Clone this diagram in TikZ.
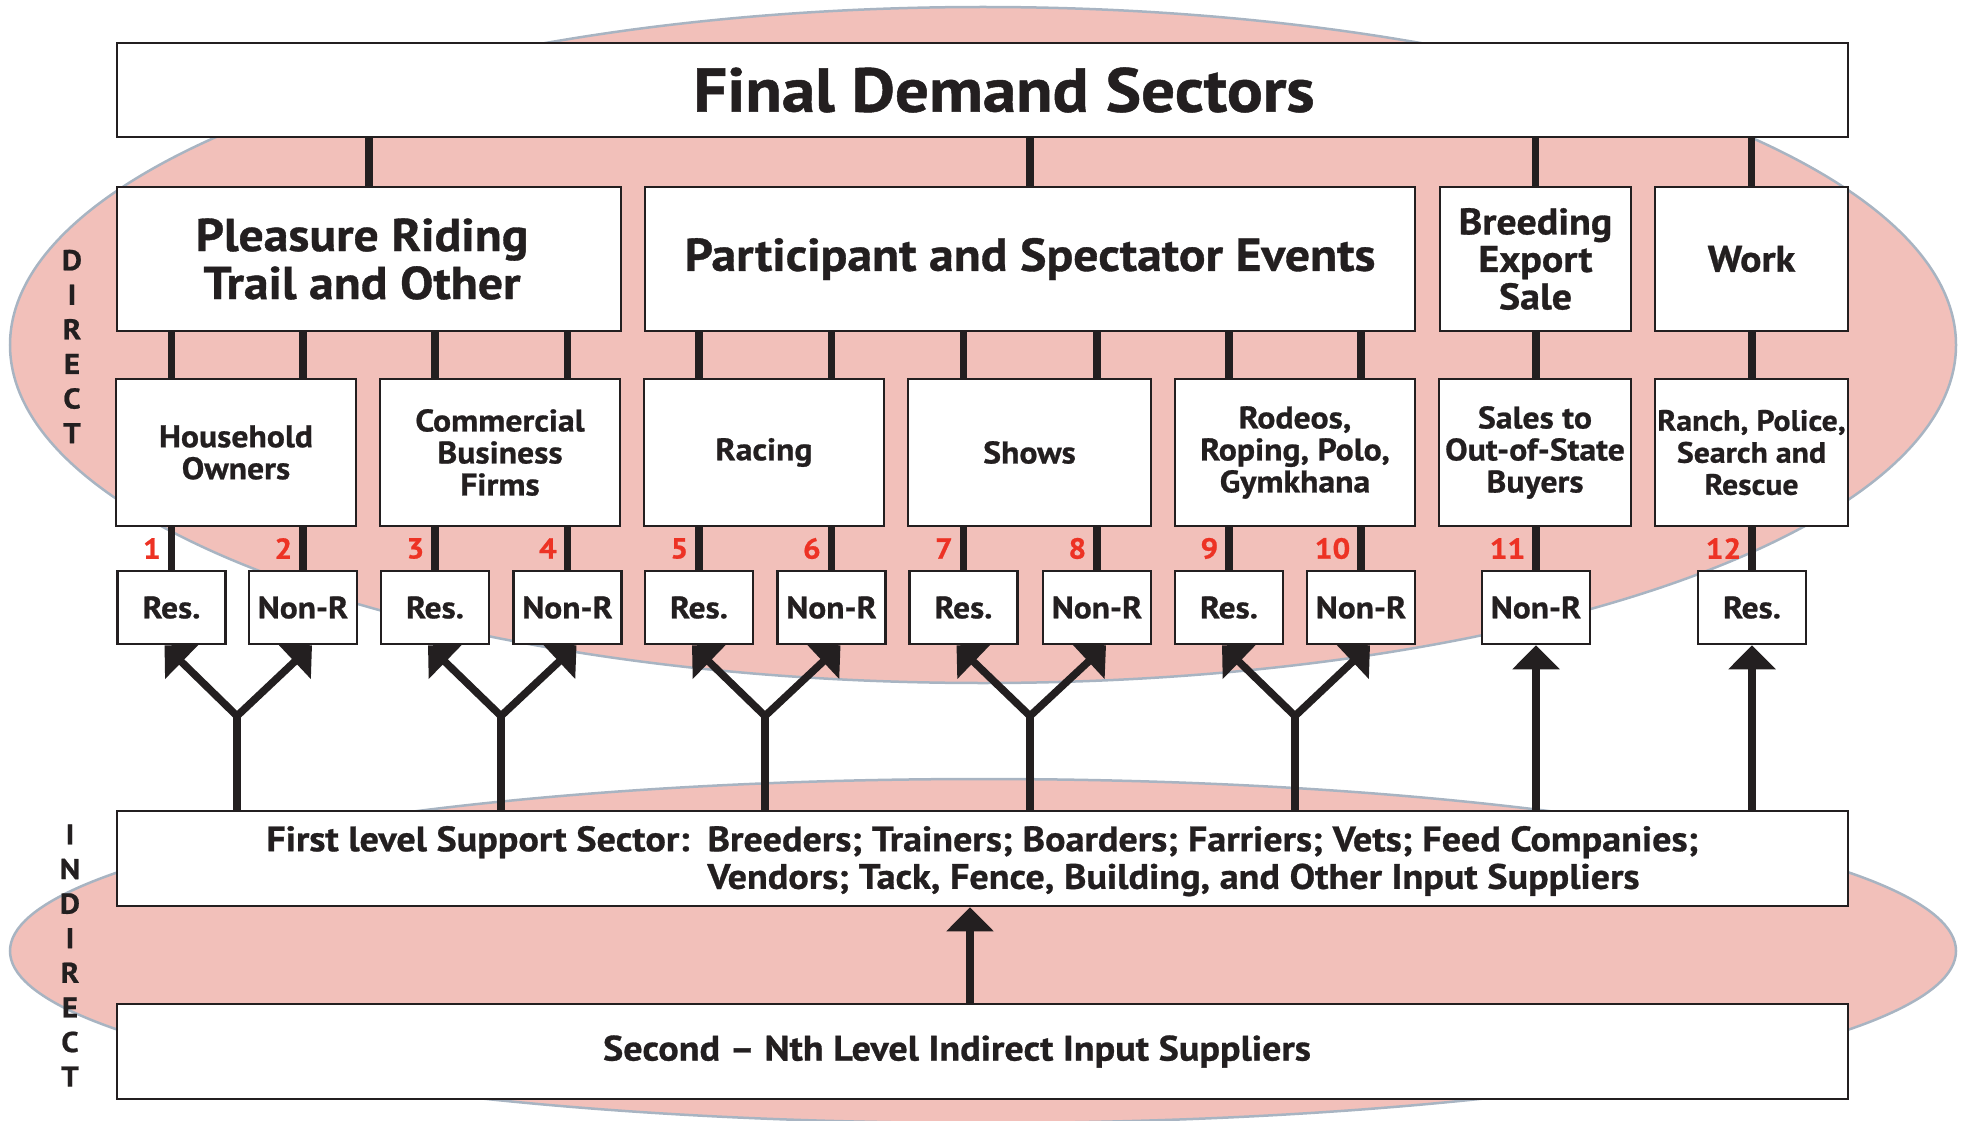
\documentclass[tikz,border=0pt]{standalone}
\usepackage{fontspec}
\setmainfont{PT Sans}[FakeStretch=1.08,BoldFeatures={FakeBold=0.8}]
\usetikzlibrary{arrows.meta}
\definecolor{ink}{HTML}{231F20}
\definecolor{blush}{HTML}{F2C0BA}
\definecolor{rim}{HTML}{A8B4C2}
\definecolor{numred}{HTML}{ED3224}
\pgfdeclarelayer{back}
\pgfsetlayers{back,main}

\begin{document}
\begin{tikzpicture}[x=1pt,y=-1pt,
        box/.style={draw=ink,line width=2.5pt,fill=white,text=ink,align=center,inner sep=0pt},
        headbox/.style={box,minimum width=1731pt,minimum height=94pt,font=\bfseries\fontsize{62}{70}\selectfont},
        groupbox/.style={box,minimum height=144pt,font=\bfseries\fontsize{46}{48}\selectfont},
        smallgroup/.style={groupbox,font=\bfseries\fontsize{37}{37.5}\selectfont},
        usebox/.style={box,minimum height=147pt,font=\bfseries\fontsize{31.2}{32}\selectfont},
        resbox/.style={box,minimum width=108pt,minimum height=73pt,font=\bfseries\fontsize{31}{32}\selectfont},
        supbox/.style={box,minimum width=1731pt,minimum height=95pt,font=\bfseries\fontsize{35.3}{37.6}\selectfont},
        side/.style={text=ink,align=center,inner sep=0pt,font=\bfseries\fontsize{28.6}{34.6}\selectfont},
        num/.style={text=numred,anchor=east,xshift=-7pt,inner sep=0pt,font=\bfseries\fontsize{29}{30}\selectfont},
        link/.style={ink,line width=7.5pt},
        arr/.style={link,-{Triangle[width=46pt,length=24pt]}},
        fork/.style={link,miter limit=4,{Triangle[width=46pt,length=24pt]}-{Triangle[width=46pt,length=24pt]}}]
        \useasboundingbox (0,0) rectangle (1971,1121);

        \node[headbox] (fds) at (982.5,90) {\hspace*{43pt}Final Demand Sectors};

        \node[groupbox,minimum width=504pt] (pleasure) at (369,259) {Pleasure Riding\hspace*{14pt}\\Trail and Other\hspace*{14pt}};
        \node[groupbox,minimum width=770pt] (pse) at (1030,259) {Participant and Spectator Events};
        \node[smallgroup,minimum width=191pt] (breed) at (1535.5,259) {Breeding\\Export\\Sale};
        \node[smallgroup,minimum width=193pt] (work) at (1751.5,259) {Work};

        \node[usebox,minimum width=240pt] (hh) at (236,452.5) {Household\\Owners};
        \node[usebox,minimum width=240pt] (cbf) at (500,452.5) {Commercial\\Business\\Firms};
        \node[usebox,minimum width=240pt] (racing) at (764,452.5) {Racing};
        \node[usebox,minimum width=243pt] (shows) at (1029.5,452.5) {Shows};
        \node[usebox,minimum width=240pt] (rodeo) at (1295,452.5) {Rodeos,\\Roping, Polo,\\Gymkhana};
        \node[usebox,minimum width=192pt] (sales) at (1535,452.5) {Sales to\\Out-of-State\\Buyers};
        \node[usebox,minimum width=193pt,font=\bfseries\fontsize{29.4}{32}\selectfont] (ranch) at (1751.5,452.5) {Ranch, Police,\\Search and\\Rescue};

        \node[resbox] (r1) at (171.5,607.5) {Res.};
        \node[resbox] (r2) at (303,607.5) {Non-R};
        \node[resbox] (r3) at (435,607.5) {Res.};
        \node[resbox] (r4) at (567.5,607.5) {Non-R};
        \node[resbox] (r5) at (699,607.5) {Res.};
        \node[resbox] (r6) at (831.5,607.5) {Non-R};
        \node[resbox] (r7) at (963.5,607.5) {Res.};
        \node[resbox] (r8) at (1097,607.5) {Non-R};
        \node[resbox] (r9) at (1229,607.5) {Res.};
        \node[resbox] (r10) at (1361,607.5) {Non-R};
        \node[resbox] (r11) at (1536,607.5) {Non-R};
        \node[resbox] (r12) at (1752,607.5) {Res.};

        \node[supbox] (sup) at (982.5,858.5) {\raisebox{-4pt}[\height][\depth]{\begin{tabular}{@{}l@{\hspace{18pt}}l@{}}First level Support Sector: & Breeders; Trainers; Boarders; Farriers; Vets; Feed Companies;\\ & Vendors; Tack, Fence, Building, and Other Input Suppliers\end{tabular}}};
        \node[supbox] (snd) at (982.5,1051.5) {Second -- Nth Level Indirect Input Suppliers\hspace*{51pt}};

        \node[side] (dlab) at (72,346.5) {D\\I\\R\\E\\C\\T};
        \node[side] (ilab) at (70,955.5) {I\\N\\D\\I\\R\\E\\C\\T};

        \coordinate (y1) at (237,716);
        \coordinate (y2) at (501,716);
        \coordinate (y3) at (765,716);
        \coordinate (y4) at (1030,716);
        \coordinate (y5) at (1295,716);

        \begin{pgfonlayer}{back}
        \draw[rim,line width=2.5pt,fill=blush] (983,345) ellipse [x radius=973pt,y radius=338pt];
        \draw[rim,line width=2.5pt,fill=blush] (983,951) ellipse [x radius=973pt,y radius=172pt];

        \draw[link] (pleasure.north) -- (pleasure |- fds.south);
        \draw[link] (pse.north) -- (pse |- fds.south);
        \draw[link] (breed.north) -- (breed |- fds.south);
        \draw[link] (work.north) -- (work |- fds.south);

        \draw[link] (r1 |- pleasure.south) -- (r1 |- hh.north);
        \draw[link] (r2 |- pleasure.south) -- (r2 |- hh.north);
        \draw[link] (r3 |- pleasure.south) -- (r3 |- cbf.north);
        \draw[link] (r4 |- pleasure.south) -- (r4 |- cbf.north);
        \draw[link] (r5 |- pse.south) -- (r5 |- racing.north);
        \draw[link] (r6 |- pse.south) -- (r6 |- racing.north);
        \draw[link] (r7 |- pse.south) -- (r7 |- shows.north);
        \draw[link] (r8 |- pse.south) -- (r8 |- shows.north);
        \draw[link] (r9 |- pse.south) -- (r9 |- rodeo.north);
        \draw[link] (r10 |- pse.south) -- (r10 |- rodeo.north);
        \draw[link] (r11 |- breed.south) -- (r11 |- sales.north);
        \draw[link] (r12 |- work.south) -- (r12 |- ranch.north);

        \draw[link] (r1 |- hh.south) -- node[num] {1} (r1.north);
        \draw[link] (r2 |- hh.south) -- node[num] {2} (r2.north);
        \draw[link] (r3 |- cbf.south) -- node[num] {3} (r3.north);
        \draw[link] (r4 |- cbf.south) -- node[num] {4} (r4.north);
        \draw[link] (r5 |- racing.south) -- node[num] {5} (r5.north);
        \draw[link] (r6 |- racing.south) -- node[num] {6} (r6.north);
        \draw[link] (r7 |- shows.south) -- node[num] {7} (r7.north);
        \draw[link] (r8 |- shows.south) -- node[num] {8} (r8.north);
        \draw[link] (r9 |- rodeo.south) -- node[num] {9} (r9.north);
        \draw[link] (r10 |- rodeo.south) -- node[num] {10} (r10.north);
        \draw[link] (r11 |- sales.south) -- node[num] {11} (r11.north);
        \draw[link] (r12 |- ranch.south) -- node[num] {12} (r12.north);

        \draw[link] (y1 |- sup.north) -- (y1);
        \draw[link] (y2 |- sup.north) -- (y2);
        \draw[link] (y3 |- sup.north) -- (y3);
        \draw[link] (y4 |- sup.north) -- (y4);
        \draw[link] (y5 |- sup.north) -- (y5);
        \draw[fork] ([xshift=-7pt]r1.south) -- (y1) -- ([xshift=9pt]r2.south);
        \draw[fork] ([xshift=-7pt]r3.south) -- (y2) -- ([xshift=9pt]r4.south);
        \draw[fork] ([xshift=-7pt]r5.south) -- (y3) -- ([xshift=9pt]r6.south);
        \draw[fork] ([xshift=-7pt]r7.south) -- (y4) -- ([xshift=9pt]r8.south);
        \draw[fork] ([xshift=-7pt]r9.south) -- (y5) -- ([xshift=9pt]r10.south);
        \draw[arr] (r11 |- sup.north) -- (r11.south);
        \draw[arr] (r12 |- sup.north) -- (r12.south);

        \draw[arr] ([xshift=-12.5pt]snd.north) -- ([xshift=-12.5pt]sup.south);
        \end{pgfonlayer}
\end{tikzpicture}
\end{document}
